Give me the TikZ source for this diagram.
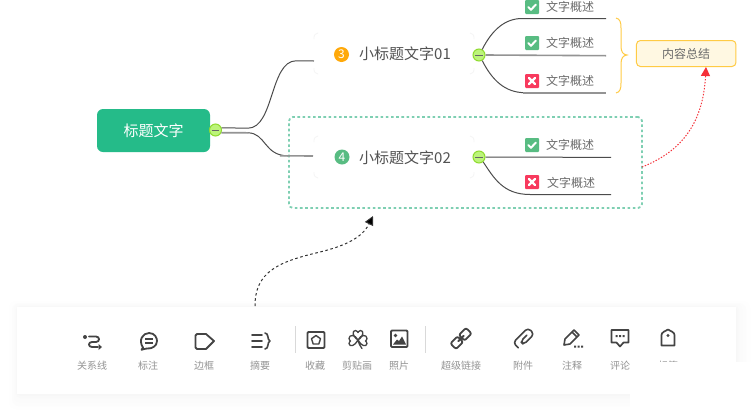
\documentclass[tikz,border=0pt]{standalone}
\usepackage{fontspec}
\setmainfont{Noto Sans CJK SC}
\usetikzlibrary{arrows.meta,shapes.geometric}
\definecolor{rootgreen}{HTML}{25BB89}
\definecolor{togfill}{HTML}{BCF47A}
\definecolor{togline}{HTML}{8FDB2E}
\definecolor{okgreen}{HTML}{58BC82}
\definecolor{badred}{HTML}{F83A5E}
\definecolor{amber}{HTML}{FFA90A}
\definecolor{braceY}{HTML}{FFCB45}
\definecolor{sumfill}{HTML}{FFF8E2}
\definecolor{boundary}{HTML}{7ECFB2}
\definecolor{icon}{HTML}{444444}
\definecolor{relred}{HTML}{F53038}
\tikzset{
  toggle/.style={circle,draw=togline,fill=togfill,line width=1pt,minimum size=12pt,inner sep=0pt,
    path picture={\draw[black!60,line width=.7pt] ([xshift=-3.8pt]path picture bounding box.center) -- ([xshift=3.8pt]path picture bounding box.center);}},
  thin branch/.style={draw=black!70,line width=1pt},
  gray branch/.style={draw=black!42,line width=1.6pt},
  badge/.style={circle,minimum size=15pt,inner sep=0pt,text=white,font=\fontsize{12}{12}\selectfont},
  subtext/.style={text=black!68,inner sep=0pt,font=\fontsize{15}{15}\selectfont},
  leaftext/.style={text=black!58,inner sep=0pt,font=\fontsize{12}{12}\selectfont},
  tick/.style={rounded corners=1pt,minimum size=14pt,inner sep=0pt,fill=#1},
  tool/.style={text=black!42,inner sep=0pt,font=\fontsize{10}{10}\selectfont},
  ic/.style={draw=icon,line width=1.8pt,line cap=round,line join=round},
  corner/.style={draw=black!4,line width=.8pt},
}
\newcommand{\markok}[1]{\draw[white,line width=2pt,line cap=round,line join=round,shift={(#1)}] (-3.6,.2) -- (-1,2.8) -- (3.8,-2.4);}
\newcommand{\markno}[1]{\draw[white,line width=2.2pt,line cap=round,shift={(#1)}] (-3,-3) -- (3,3) (-3,3) -- (3,-3);}
\newcommand{\faintcorners}[4]{\draw[corner] (#1,#2+6) -- (#1,#2+4) -- (#1+1,#2+1.5) -- (#1+4,#2) (#3-4,#2) -- (#3-1,#2+1.5) -- (#3,#2+4) -- (#3,#2+6)
  (#1,#4-6) -- (#1,#4-4) -- (#1+1,#4-1.5) -- (#1+4,#4) (#3-4,#4) -- (#3-1,#4-1.5) -- (#3,#4-4) -- (#3,#4-6);}
\begin{document}
\begin{tikzpicture}[x=1pt,y=-1pt]
\useasboundingbox (0,0) rectangle (753,413);
\fill[white] (0,0) rectangle (753,413);
% toolbar shadow
\fill[black!.5,rounded corners=8] (9,301) rectangle (750,409);
\fill[black!1,rounded corners=7] (12,303) rectangle (746,406);
\fill[black!1.5,rounded corners=6] (14,304) rectangle (742,402);
\fill[black!2.5,rounded corners=5] (15.5,305.5) rectangle (739,398);
\fill[black!3,rounded corners=4] (16.5,306.5) rectangle (737,395.5);
\node[fill=white,minimum width=719pt,minimum height=87pt,inner sep=0pt,outer sep=0pt,anchor=north west] (panel) at (17,307) {};
% boundary
\node[draw=boundary,line width=1.8pt,dash pattern=on 2.6pt off 2.6pt,rounded corners=4pt,minimum width=353pt,minimum height=91pt,inner sep=0pt,outer sep=0pt,anchor=north west] (bound) at (289,117) {};
% root
\node[fill=rootgreen,rounded corners=6pt,minimum width=113pt,minimum height=43pt,inner sep=0pt,text=white,font=\fontsize{15}{15}\selectfont] (root) at (153.5,130.5) {标题文字};
\node[toggle] (t0) at (215.5,130) {};
% subtopics
\faintcorners{314}{33}{474}{74}
\faintcorners{314}{136}{474}{178}
\node[minimum width=160pt,minimum height=41pt,inner sep=0pt] (sub1) at (394,53.5) {};
\node[minimum width=160pt,minimum height=42pt,inner sep=0pt] (sub2) at (394,157) {};
\node[badge,fill=amber] (b3) at (341.5,54.5) {3};
\node[badge,fill=okgreen] (b4) at (342,157) {4};
\node[subtext,anchor=west] (s1t) at (359,54) {小标题文字01};
\node[subtext,anchor=west] (s2t) at (359,157.5) {小标题文字02};
\node[toggle] (t1) at (479,55) {};
\node[toggle] (t2) at (479,157) {};
\coordinate (in1) at (314,61);
\coordinate (in2) at (313,156);
\draw[thin branch] (t0.20) -- (248,128.2) .. controls (274,128) and (270,61) .. (296,60.8) -- (in1);
\draw[gray branch] (t0.-25) -- (248,132.8);
\draw[thin branch] (248,132.8) .. controls (266,133) and (264,155.8) .. (288,155.8);
\draw[gray branch] (280,155.8) -- (in2);
% leaves of sub 1
\coordinate (l1) at (606,18.5);
\coordinate (l2) at (606,55.7);
\coordinate (l3) at (606,92.7);
\draw[thin branch] (t1.60) .. controls (492,30) and (505,18.5) .. (522,18.5) -- (l1);
\draw[gray branch] (t1.east) -- (l2);
\draw[thin branch] (t1.-60) .. controls (492,80) and (505,92.7) .. (525,92.7);
\draw[gray branch] (523,92.7) -- (l3);
% leaves of sub 2
\coordinate (l4) at (611,157.4);
\coordinate (l5) at (611,194.5);
\draw[thin branch] (t2.east) -- (l4);
\draw[thin branch] (t2.-50) .. controls (494,178) and (503,194.5) .. (530,194.5) -- (l5);
% tick marks and labels
\node[tick=okgreen] (k1) at (532,7) {}; \markok{532,7}
\node[tick=okgreen] (k2) at (532,43) {}; \markok{532,43}
\node[tick=badred] (k3) at (532,81) {}; \markno{532,81}
\node[tick=okgreen] (k4) at (532,145) {}; \markok{532,145}
\node[tick=badred] (k5) at (532,182) {}; \markno{532,182}
\node[leaftext,anchor=west] (w1) at (546,7) {文字概述};
\node[leaftext,anchor=west] (w2) at (546,43) {文字概述};
\node[leaftext,anchor=west] (w3) at (546,81) {文字概述};
\node[leaftext,anchor=west] (w4) at (546,145) {文字概述};
\node[leaftext,anchor=west] (w5) at (547,183) {文字概述};
% summary
\node[draw=braceY,line width=1pt,fill=sumfill,rounded corners=4pt,minimum width=99.5pt,minimum height=26pt,inner sep=0pt,text=black!58,font=\fontsize{12}{12}\selectfont] (sum) at (686.2,53.5) {内容总结};
\draw[braceY,line width=1pt] (616,18) .. controls (620,19) and (621,22) .. (621,28) -- (621,46) .. controls (621,52) and (623,54.5) .. (627,55)
  .. controls (623,55.5) and (621,58) .. (621,64) -- (621,83) .. controls (621,89) and (620,92) .. (616,93);
% relationship lines
\draw[relred,line width=1pt,dash pattern=on 1.4pt off 1.6pt,-{Triangle[length=9pt,width=9pt,fill=relred]}] (bound.east |- 0,167) .. controls (680,152) and (703,125) .. (sum.south -| 706,0);
\coordinate (cstart) at (255,306);
\coordinate (cend) at (373,216);
\draw[black!80,line width=1pt,dash pattern=on 2.6pt off 2.6pt,-{Triangle[length=9pt,width=9pt,fill=black]}] (cstart) .. controls (255,272) and (278,262) .. (318,252.5) .. controls (345,246) and (362,238) .. (cend);
% separators
\draw[black!15,line width=1pt] (295.5,326) -- (295.5,353) (425,326) -- (425,353);
% toolbar labels
\node[tool] (a1) at (92,366) {关系线};
\node[tool] (a2) at (148,366) {标注};
\node[tool] (a3) at (204,366) {边框};
\node[tool] (a4) at (260,366) {摘要};
\node[tool] (a5) at (315,366) {收藏};
\node[tool] (a6) at (357,366) {剪贴画};
\node[tool] (a7) at (399,366) {照片};
\node[tool] (a8) at (461,366) {超级链接};
\node[tool] (a9) at (523,366) {附件};
\node[tool] (a10) at (572,366) {注释};
\node[tool] (a11) at (620,366) {评论};
\node[tool] (a12) at (668,366) {标签};
% icon: relation line
\fill[icon] (85,337) circle[radius=2];
\draw[ic] (89,336.5) -- (96,336.5) .. controls (100,336.5) and (100,342) .. (96,342) -- (92,342) .. controls (88,342) and (88,347) .. (92,347) -- (98,347);
\fill[icon] (98.5,344) -- (102,347) -- (98.5,350) -- cycle;
% icon: callout
\draw[ic] (143,347.5) .. controls (138,340) and (143,333) .. (149,333) .. controls (155,333) and (157,338) .. (157,341) .. controls (157,346) and (152,349) .. (147,348.5) .. controls (145,348.5) and (143,349.5) .. (141.5,349.8) -- cycle;
\draw[icon,line width=1.6pt] (145,339) -- (153,339) (145,343) -- (153,343);
% icon: boundary
\draw[ic] (197,334) -- (206,334) -- (214,341) -- (206,349) -- (197,349) .. controls (196,349) and (195.5,348.5) .. (195.5,347.5) -- (195.5,335.5) .. controls (195.5,334.5) and (196,334) .. (197,334) -- cycle;
% icon: summary
\draw[ic,line width=1.6pt] (252,335) -- (262,335) (252,341) -- (262,341) (252,347) -- (262,347);
\draw[ic,line width=1.6pt] (265,333) .. controls (269,333) and (267,340) .. (270,341) .. controls (267,342) and (269,349) .. (265,349);
% icon: favourite
\draw[ic,rounded corners=1pt] (307.5,332) rectangle (324.5,348);
\draw[ic,line width=1.4pt] (316,335.5) -- (320.5,338.7) -- (318.8,344) -- (313.2,344) -- (311.5,338.7) -- cycle;
% icon: clipart
\draw[ic,line width=1.3pt] (358,340) .. controls (352,336) and (352,330.5) .. (355.5,330.5) .. controls (357,330.5) and (358,332.5) .. (358,332.5) .. controls (358,332.5) and (359,330.5) .. (360.5,330.5) .. controls (364,330.5) and (364,336) .. (358,340)
  .. controls (355,334) and (349,334.5) .. (349,338.5) .. controls (349,340) and (350.5,341) .. (350.5,341) .. controls (350.5,341) and (349,342) .. (349,343.5) .. controls (349.5,347.5) and (355,346) .. (358,340)
  .. controls (361,334) and (367,334.5) .. (367,338.5) .. controls (367,340) and (365.5,341) .. (365.5,341) .. controls (365.5,341) and (367,342) .. (367,343.5) .. controls (366.5,347.5) and (361,346) .. (358,340)
  .. controls (359,344) and (360,346) .. (362,348.5);
% icon: photo
\draw[ic,rounded corners=1pt] (391,330.5) rectangle (407.5,347);
\fill[icon] (395.5,335.5) circle[radius=1.8];
\fill[icon] (393,344.5) -- (397,339.5) -- (399,341) -- (402,336.5) -- (406,344.5) -- cycle;
% icon: link
\begin{scope}[shift={(461,338.5)},rotate=45]
\draw[ic,rounded corners=2pt,line width=1.8pt] (-11,-4) rectangle (-1,4);
\draw[ic,rounded corners=2pt,line width=1.8pt] (1,-4) rectangle (11,4);
\draw[ic,line width=1.8pt] (-4,0) -- (4,0);
\end{scope}
% icon: attachment
\begin{scope}[shift={(524,338)},rotate=45]
\draw[ic,line width=1.6pt,rounded corners=3.5pt] (4,0) -- (-5,0) -- (-5,4.4) -- (10,4.4) -- (10,-4.4) -- (-11,-4.4) -- (-11,3);
\end{scope}
% icon: note
\draw[ic,line width=1.6pt] (564,345) -- (565,339) -- (574,330) -- (579,335) -- (570,344) -- cycle (572,332) -- (577,337);
\fill[icon] (574,345.5) rectangle (576,347.5) (577.5,345.5) rectangle (579.5,347.5) (581,345.5) rectangle (583,347.5);
% icon: comment
\draw[ic,line width=1.7pt] (611.5,330) -- (628.5,330) -- (628.5,342.5) -- (623.5,342.5) -- (620,346.5) -- (616.5,342.5) -- (611.5,342.5) -- cycle;
\fill[icon] (615.5,335) rectangle (617.5,337) (619,335) rectangle (621,337) (622.5,335) rectangle (624.5,337);
% icon: tag
\draw[ic,line width=1.7pt] (661.5,345.5) -- (661.5,335) .. controls (661.5,332.5) and (665,331) .. (668,329.5) .. controls (671,331) and (674.5,332.5) .. (674.5,335) -- (674.5,345.5) -- cycle;
\fill[icon] (668,335.5) circle[radius=1.6];
% white cover over the toolbar corner
\fill[white] (630,362) rectangle (753,413);
\end{tikzpicture}
\end{document}
